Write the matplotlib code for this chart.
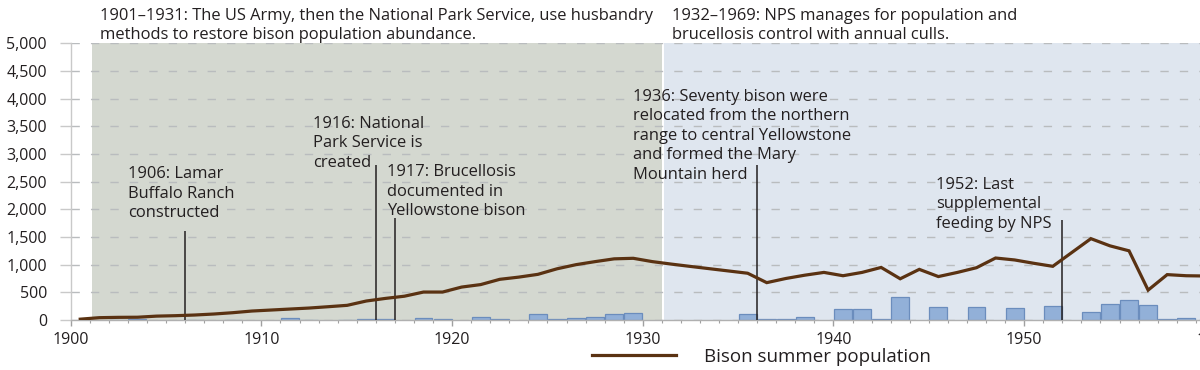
import numpy as np
import matplotlib
matplotlib.use("Agg")
import matplotlib.pyplot as plt
from matplotlib.ticker import FuncFormatter, MultipleLocator
from matplotlib.lines import Line2D

# ---- data -------------------------------------------------------------
years = list(range(1900, 1960))
population = [15, 42, 48, 50, 70, 78, 90, 108, 132, 162,
              180, 198, 216, 240, 265, 343, 390, 430, 505, 505,
              595, 640, 735, 775, 825, 925, 1000, 1055, 1105, 1115,
              1055, 1010, 968, 927, 886, 845, 675, 750, 810, 860,
              800, 860, 950, 745, 915, 785, 860, 945, 1120, 1085,
              1025, 970, 1220, 1470, 1340, 1250, 540, 820, 800, 795]
removals = [0, 0, 8, 10, 0, 0, 5, 0, 5, 0,
            0, 30, 8, 0, 5, 15, 10, 0, 36, 12,
            0, 48, 10, 0, 102, 15, 36, 48, 102, 126,
            0, 0, 0, 0, 0, 102, 12, 15, 60, 0,
            205, 196, 10, 409, 0, 235, 0, 235, 0, 223,
            0, 247, 0, 138, 283, 361, 271, 10, 36, 0]

periods = [(1901.1, 1931.0), (1931.1, 1962.0)]
period_texts = ["1901\u20131931: The US Army, then the National Park Service, use husbandry\nmethods to restore bison population abundance.",
                "1932\u20131969: NPS manages for population and\nbrucellosis control with annual culls."]

events = [1906, 1916, 1917, 1936, 1952]
event_tops = [1600, 2800, 1850, 2800, 1800]
event_texts = ["1906: Lamar\nBuffalo Ranch\nconstructed",
               "1916: National\nPark Service is\ncreated",
               "1917: Brucellosis\ndocumented in\nYellowstone bison",
               "1936: Seventy bison were\nrelocated from the northern\nrange to central Yellowstone\nand formed the Mary\nMountain herd",
               "1952: Last\nsupplemental\nfeeding by NPS"]
event_text_x = [1903.0, 1912.7, 1916.6, 1929.5, 1945.4]
event_text_y = [2283, 3195, 2316, 3330, 2088]

legend_label = "Bison summer population"

# ---- style ------------------------------------------------------------
plt.rcParams['font.family'] = ['Open Sans', 'DejaVu Sans']
TXT = '#231f20'
FS = 11.9
TICK_FS = 11.5
LS = 1.29

fig = plt.figure(figsize=(12, 3.7), dpi=100)
ax = fig.add_axes([70.7 / 1200, 50 / 370, 1182.3 / 1200, 276.7 / 370])

yrs = np.array(years, dtype=float)
pop = np.array(population, dtype=float)
rem = np.array(removals, dtype=float)

ax.set_xlim(1900, 1962)
ax.set_ylim(0, 5000)

# shaded periods
ax.axvspan(periods[0][0], periods[0][1], color='#d4d8d0', lw=0, zorder=0)
ax.axvspan(periods[1][0], periods[1][1], color='#dfe6ef', lw=0, zorder=0)

# grid
ax.yaxis.set_major_locator(MultipleLocator(500))
ax.grid(axis='y', color='#b9bcbe', linestyle=(0, (6, 8)), linewidth=1.0, zorder=1)
ax.set_axisbelow(True)

# bars (removals)
m = rem > 0
ax.bar(yrs[m] + 0.5, rem[m], width=0.94, color='#92b0d8', edgecolor='#6b8dbd',
       linewidth=0.9, zorder=2)

# event lines
ax.vlines(events, 0, event_tops, color='#231f20', linewidth=1.1, zorder=3)

# population line
ax.plot(yrs + 0.5, pop, color='#5a3212', linewidth=2.3, zorder=4,
        solid_joinstyle='miter')

# texts
for tx, ty, t in zip(event_text_x, event_text_y, event_texts):
    ax.text(tx, ty, t, fontsize=FS, color=TXT, ha='left', va='center',
            linespacing=LS, zorder=5)
for (x0, x1), t in zip(periods, period_texts):
    ax.text(x0 + 0.45, 5325, t, fontsize=FS, color=TXT, ha='left', va='center',
            linespacing=LS, clip_on=False)

# axes styling
for s in ['top', 'right']:
    ax.spines[s].set_visible(False)
ax.spines['left'].set_color('#c9c9c9')
ax.spines['left'].set_linewidth(1.0)
ax.spines['bottom'].set_color('#b0b0b0')
ax.spines['bottom'].set_linewidth(1.0)

ax.yaxis.set_major_formatter(FuncFormatter(lambda v, p: f"{int(v):,}"))
ax.tick_params(axis='y', length=8, width=1.0, color='#c9c9c9', pad=9.0,
               labelsize=TICK_FS, labelcolor=TXT)
ax.xaxis.set_major_locator(MultipleLocator(10))
ax.xaxis.set_minor_locator(MultipleLocator(1))
ax.tick_params(axis='x', which='major', length=4, width=1.0, color='#a0a0a0',
               pad=5, labelsize=TICK_FS, labelcolor=TXT)
ax.tick_params(axis='x', which='minor', length=2.5, width=0.8, color='#a0a0a0')

# legend
handle = Line2D([], [], color='#5a3212', linewidth=2.3)
fig.legend([handle], [legend_label], loc='center', bbox_to_anchor=(0.6345, 0.036),
           frameon=False, fontsize=13.5, handlelength=4.5, handletextpad=1.5,
           labelcolor=TXT)

fig.savefig('out.png', dpi=100)
